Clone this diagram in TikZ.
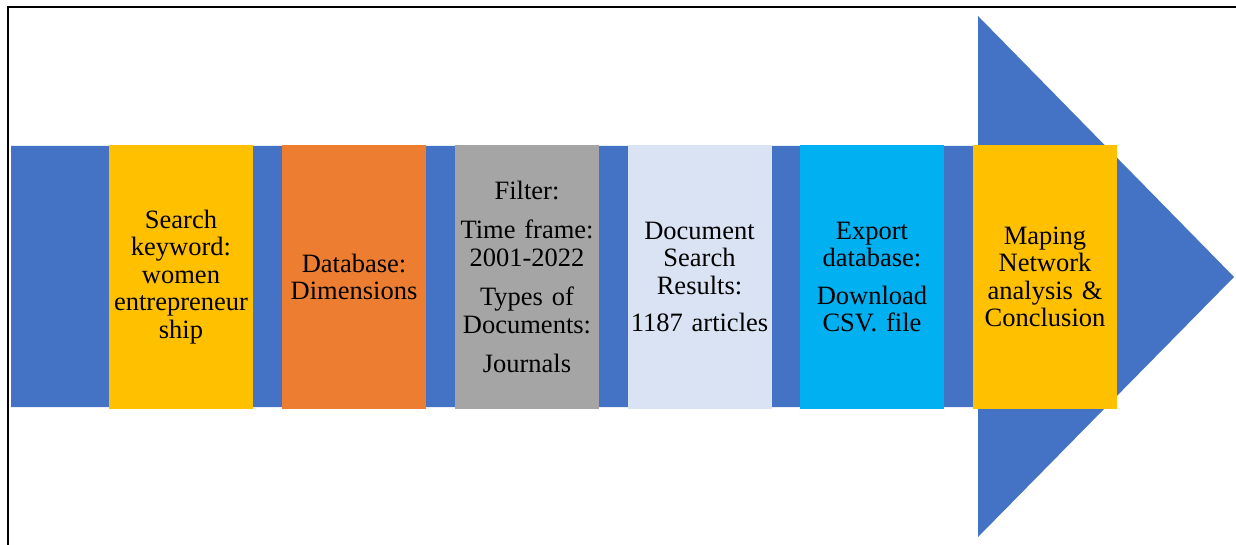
\documentclass[tikz,border=0pt]{standalone}
\usepackage{fontspec}
\setmainfont{Liberation Serif}
\definecolor{arrowblue}{HTML}{4472C4}
\definecolor{boxyellow}{HTML}{FFC000}
\definecolor{boxorange}{HTML}{ED7D31}
\definecolor{boxgray}{HTML}{A5A5A5}
\definecolor{boxlight}{HTML}{DAE3F3}
\definecolor{boxcyan}{HTML}{00B0F0}
\tikzset{
  stepbox/.style={draw=none, minimum width=144pt, minimum height=264pt, inner sep=0pt,
    align=center, text width=142pt, font=\fontsize{26.5}{27.5}\selectfont, text=black}
}
\begin{document}
\begin{tikzpicture}[x=1pt,y=-1pt]
\useasboundingbox (0,0) rectangle (1236,545);
\fill[white] (0,0) rectangle (1236,545);
% frame
\draw[line width=1.5pt] (8,545) -- (8,7) -- (1236,7);
% big arrow
\fill[arrowblue] (11,146) -- (978,146) -- (978,16) -- (1234,277) -- (978,537) -- (978,407) -- (11,407) -- cycle;
% boxes
\node[stepbox, fill=boxyellow] (b1) at (181,277) {Search\\keyword:\\women\\entrepreneur\\ship};
\node[stepbox, fill=boxorange] (b2) at (354,277) {Database:\\Dimensions};
\node[stepbox, fill=boxgray] (b3) at (527,277) {Filter:\\[12pt]Time frame:\\2001-2022\\[12pt]Types of\\Documents:\\[12pt]Journals};
\node[stepbox, fill=boxlight] (b4) at (699.5,277) {Document\\Search\\Results:\\[10pt]1187 articles};
\node[stepbox, fill=boxcyan] (b5) at (872,277) {Export\\database:\\[10pt]Download\\CSV. file};
\node[stepbox, fill=boxyellow] (b6) at (1045,277) {Maping\\Network\\analysis \&\\Conclusion};
\end{tikzpicture}
\end{document}
